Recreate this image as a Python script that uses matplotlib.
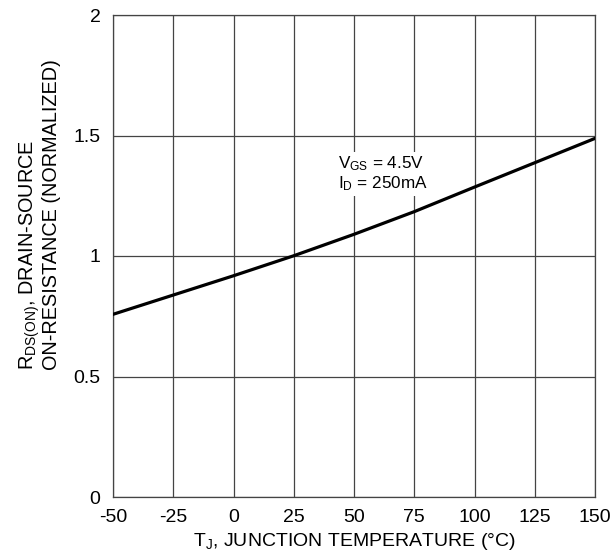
import matplotlib
matplotlib.use("Agg")
import matplotlib.pyplot as plt

plt.rcParams['font.family'] = ['Liberation Sans', 'DejaVu Sans']
plt.rcParams['mathtext.fontset'] = 'custom'
plt.rcParams['mathtext.rm'] = 'Liberation Sans'
plt.rcParams['mathtext.it'] = 'Liberation Sans'
plt.rcParams['mathtext.default'] = 'regular'

temperature = [-50, -25, 0, 25, 50, 75, 100, 125, 150]
rds_norm = [0.758, 0.838, 0.918, 1.001, 1.090, 1.184, 1.286, 1.387, 1.488]
x_ticks = [-50, -25, 0, 25, 50, 75, 100, 125, 150]
y_ticks = [0, 0.5, 1, 1.5, 2]
y_tick_labels = ['0', '0.5', '1', '1.5', '2']
ylabel_lines = ['R$_{DS(ON)}$, DRAIN-SOURCE', 'ON-RESISTANCE (NORMALIZED)']

fig = plt.figure(figsize=(6.13, 5.55), dpi=100)
ax = fig.add_axes([113/613, (555-497)/555, (595-113)/613, (497-15)/555])

ax.plot(temperature, rds_norm, color='black', lw=2.3, zorder=3)
ax.set_xlim(-50, 150)
ax.set_ylim(0, 2)
ax.set_xticks(x_ticks)
ax.set_xticklabels([str(t) for t in x_ticks])
ax.set_yticks(y_ticks)
ax.set_yticklabels(y_tick_labels)
ax.grid(True, color='#444444', lw=0.9)
ax.tick_params(length=0, labelsize=14, pad=9)
for s in ax.spines.values():
    s.set_color('#444444')
    s.set_linewidth(0.9)

ax.set_xlabel(r'T$_{J}$, JUNCTION TEMPERATURE (°C)', fontsize=14, labelpad=3)
for xpix, line in zip([33.5, 57.0], ylabel_lines):
    fig.text(xpix/613, (555-370)/555, line, fontsize=14.3, rotation=90,
             rotation_mode='anchor', ha='left', va='baseline')

ax.text(43.5, 1.34, 'V$_{GS}$ = 4.5V\nI$_{D}$ = 250mA', fontsize=12.3, ha='left', va='center',
        linespacing=1.1, zorder=4,
        bbox=dict(facecolor='white', edgecolor='none', pad=2))

fig.savefig('out.png', dpi=100)
